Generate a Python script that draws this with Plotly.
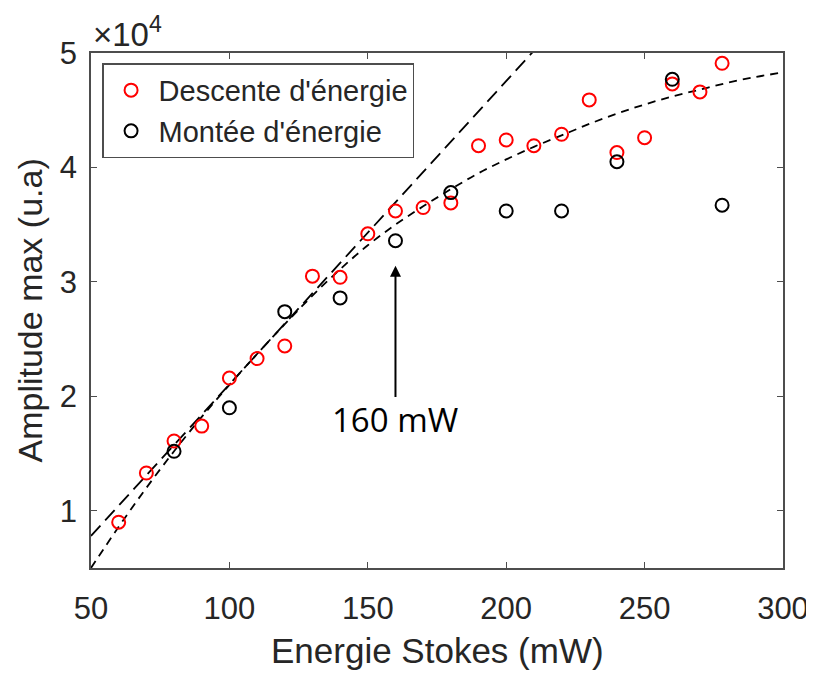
import plotly.graph_objects as go

# Data (amplitude in units of 1e4)
desc_x = [60, 70, 80, 90, 100, 110, 120, 130, 140, 150, 160, 170, 180, 190, 200, 210, 220, 230, 240, 250, 260, 270, 278]
desc_y = [0.90, 1.33, 1.61, 1.74, 2.16, 2.33, 2.44, 3.05, 3.04, 3.42, 3.62, 3.65, 3.69, 4.19, 4.24, 4.19, 4.29, 4.59, 4.13, 4.26, 4.73, 4.66, 4.91]

mont_x = [80, 100, 120, 140, 160, 180, 200, 220, 240, 260, 278]
mont_y = [1.52, 1.90, 2.74, 2.86, 3.36, 3.78, 3.62, 3.62, 4.05, 4.77, 3.67]

lin_x = [50, 210]
lin_y = [0.78, 5.02]

sat_x = [50, 60, 70, 80, 90, 100, 110, 120, 130, 140, 150, 160, 170, 180, 190, 200,
         210, 220, 230, 240, 250, 260, 270, 280, 290, 300]
sat_y = [0.50, 0.86, 1.20, 1.52, 1.82, 2.10, 2.37, 2.63, 2.88, 3.11, 3.32, 3.50, 3.66, 3.81, 3.95, 4.07,
         4.18, 4.28, 4.38, 4.47, 4.55, 4.62, 4.68, 4.74, 4.79, 4.83]

x_ticks = [50, 100, 150, 200, 250, 300]
y_ticks = [1, 2, 3, 4, 5]

arrow_x = 160
arrow_tail_y = 1.98
arrow_head_y = 3.14

AX = "#4d4d4d"
TXT = "#262626"
FONT = "Liberation Sans, Arial, sans-serif"

fig = go.Figure()
fig.add_trace(go.Scatter(x=lin_x, y=lin_y, mode="lines", showlegend=False,
                         line=dict(color="black", width=1.8, dash="14px,7px"), hoverinfo="skip"))
fig.add_trace(go.Scatter(x=sat_x, y=sat_y, mode="lines", showlegend=False, line_shape="spline",
                         line=dict(color="black", width=1.8, dash="8px,6px"), hoverinfo="skip"))
fig.add_trace(go.Scatter(x=desc_x, y=desc_y, mode="markers", name="Descente d'énergie",
                         marker=dict(symbol="circle-open", size=13, color="#ff0000", line=dict(width=2, color="#ff0000"))))
fig.add_trace(go.Scatter(x=mont_x, y=mont_y, mode="markers", name="Montée d'énergie",
                         marker=dict(symbol="circle-open", size=13, color="black", line=dict(width=2, color="black"))))

axis_common = dict(showline=True, linecolor=AX, linewidth=1.5, mirror="ticks", ticks="inside",
                   ticklen=6, tickwidth=1.2, tickcolor=AX, showgrid=False, zeroline=False,
                   automargin=False, tickfont=dict(family=FONT, size=31, color=TXT))

# page body has an 8px margin, so the figure is 806x665 placed at (8, 8)
fig.update_layout(
    width=806, height=665,
    margin=dict(l=83, r=31, t=45, b=105, autoexpand=False),
    plot_bgcolor="white", paper_bgcolor="white",
    xaxis=dict(range=[50, 300], tickvals=x_ticks, ticklabelstandoff=12, **axis_common),
    yaxis=dict(range=[0.5, 5], tickvals=y_ticks, ticklabelstandoff=6, **axis_common),
    legend=dict(x=0.016, y=0.98, xanchor="left", yanchor="top", bgcolor="white",
                bordercolor=AX, borderwidth=1.5, font=dict(family=FONT, size=29, color=TXT),
                itemwidth=45, tracegroupgap=0),
    font=dict(family=FONT, color=TXT),
    showlegend=True,
)

fig.add_annotation(x=arrow_x, y=arrow_head_y, ax=arrow_x, ay=arrow_tail_y, axref="x", ayref="y",
                   xref="x", yref="y", text="", showarrow=True, arrowhead=2, arrowsize=1.1,
                   arrowwidth=2, arrowcolor="black")
fig.add_annotation(x=arrow_x, y=arrow_tail_y, xref="x", yref="y", text="160 mW", showarrow=False,
                   yanchor="top", yshift=4, font=dict(family="Open Sans, sans-serif", size=33, color="black"))

fig.add_annotation(xref="paper", yref="paper", x=0.5, y=0, yanchor="top", yshift=-61,
                   text="Energie Stokes (mW)", showarrow=False,
                   font=dict(family=FONT, size=35, color=TXT))
fig.add_annotation(xref="paper", yref="paper", x=0, y=0.5, xanchor="right", xshift=-41, textangle=-90,
                   text="Amplitude max (u.a)", showarrow=False,
                   font=dict(family=FONT, size=34, color=TXT))
fig.add_annotation(xref="paper", yref="paper", x=0, y=1, xanchor="left", yanchor="bottom", xshift=0, yshift=-2,
                   text="×10<sup>4</sup>", showarrow=False,
                   font=dict(family=FONT, size=33, color=TXT))

fig.write_html("out.html")
